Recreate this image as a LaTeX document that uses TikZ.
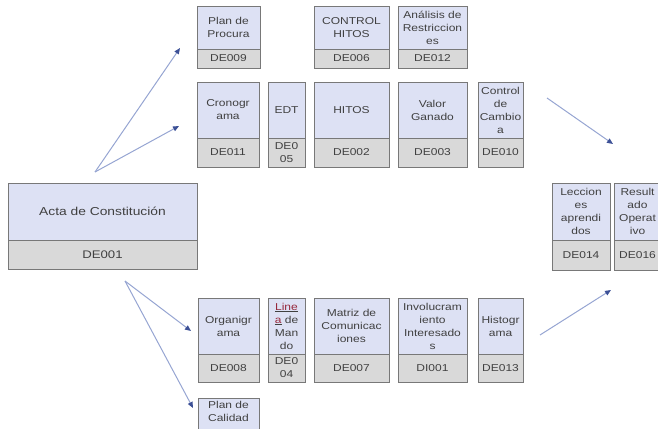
\documentclass[tikz,border=0pt]{standalone}
\usepackage{fontspec}
\setmainfont[FakeStretch=1.2]{Liberation Sans}
\usetikzlibrary{arrows.meta}
\definecolor{topfill}{RGB}{221,225,244}
\definecolor{botfill}{RGB}{217,217,217}
\definecolor{edge}{RGB}{120,120,120}
\definecolor{txt}{RGB}{64,64,64}
\definecolor{arrowline}{RGB}{150,165,210}
\definecolor{arrowtip}{RGB}{60,80,150}
\definecolor{redtxt}{RGB}{150,40,60}
\tikzset{
  cell/.style={draw=edge, line width=0.9pt, inner sep=1pt, outer sep=0pt, align=center, text=txt, font=\fontsize{10}{13}\selectfont},
  topbox/.style={cell, fill=topfill, anchor=north west},
  codebox/.style={cell, fill=botfill, anchor=north},
  link/.style={draw=arrowline, line width=1pt, -{Triangle[length=6pt,width=5pt,color=arrowtip]}},
}
\newcommand\twobox[8]{%
  \node[topbox, minimum width=#4pt, minimum height=#5pt] (#1) at (#2,#3) {#7};
  \node[codebox, minimum width=#4pt, minimum height=#6pt] (#1c) at (#1.south) {#8};}
\newcommand\redw[1]{\underline{\textcolor{redtxt}{#1}}}
\begin{document}
\begin{tikzpicture}[x=1pt,y=-1pt]
\useasboundingbox (0,0) rectangle (658,428);
\clip (0,0) rectangle (658,428);
% top row
\twobox{pp}{197}{6}{63}{43}{19}{Plan de\\Procura}{DE009}
\twobox{ch}{314}{6}{75}{43}{19}{CONTROL\\HITOS}{DE006}
\twobox{ar}{398}{6}{69}{43}{19}{Análisis de\\Restriccion\\es}{DE012}
% second row
\twobox{cr}{197}{82}{62}{56}{29}{Cronogr\\ama}{DE011}
\twobox{edt}{268}{82}{37}{56}{29}{EDT}{DE0\\05}
\twobox{hi}{314}{82}{75}{56}{29}{HITOS}{DE002}
\twobox{vg}{398}{82}{69}{56}{29}{Valor\\Ganado}{DE003}
\twobox{cc}{478}{82}{45}{56}{29}{Control\\de\\Cambio\\a}{DE010}
% charter
\node[topbox, minimum width=189pt, minimum height=57pt, font=\fontsize{11.5}{14}\selectfont] (acta) at (8,183) {Acta de Constitución};
\node[codebox, minimum width=189pt, minimum height=29pt, font=\fontsize{11}{14}\selectfont] (actac) at (acta.south) {DE001};
% right boxes
\twobox{la}{552}{183}{58}{57}{30}{Leccion\\es\\aprendi\\dos}{DE014}
\twobox{ro}{614}{183}{47}{57}{30}{Result\\ado\\Operat\\ivo}{DE016}
% third row
\twobox{org}{198}{298}{61}{56}{28}{Organigr\\ama}{DE008}
\twobox{lm}{268}{298}{37}{56}{28}{\redw{Line}\\\redw{a} de\\Man\\do}{DE0\\04}
\twobox{mc}{314}{298}{75}{56}{28}{Matriz de\\Comunicac\\iones}{DE007}
\twobox{ii}{398}{298}{69}{56}{28}{Involucram\\iento\\Interesado\\s}{DI001}
\twobox{hg}{478}{298}{45}{56}{28}{Histogr\\ama}{DE013}
% quality plan (cut off)
\node[topbox, minimum width=61pt, inner ysep=3.5pt, text depth=22pt] (pc) at (198,398) {Plan de\\Calidad};
% connectors
\coordinate (s1) at (95,172);
\coordinate (e1) at (180,48);
\coordinate (e2) at (179,126);
\coordinate (s2) at (125,281);
\coordinate (e3) at (191,331);
\coordinate (e4) at (193,408);
\coordinate (s3) at (547,98);
\coordinate (e5) at (613,144);
\coordinate (s4) at (540,335);
\coordinate (e6) at (611,290);
\draw[link] (s1) -- (e1);
\draw[link] (s1) -- (e2);
\draw[link] (s2) -- (e3);
\draw[link] (s2) -- (e4);
\draw[link] (s3) -- (e5);
\draw[link] (s4) -- (e6);
\end{tikzpicture}
\end{document}
